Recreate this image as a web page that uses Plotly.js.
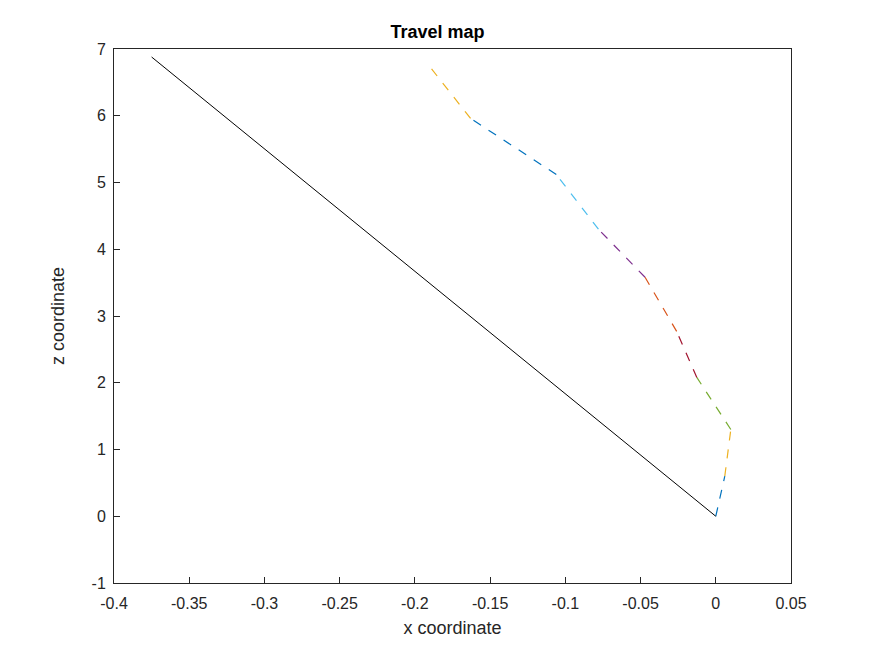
<!DOCTYPE html>
<html>
<head>
<meta charset="utf-8">
<script src="https://cdn.plot.ly/plotly-3.0.1.min.js"></script>
<style>body{margin:0;background:#fff}</style>
</head>
<body>
<div id="chart" style="width:875px;height:656px"></div>
<script>
"use strict";

// path points
const pathX = [0, 0.006, 0.010, -0.0126, -0.026, -0.047, -0.078, -0.106, -0.163, -0.192];
const pathZ = [0, 0.60, 1.30, 2.08, 2.77, 3.58, 4.30, 5.12, 5.96, 6.79];
const segmentColors = ["#0072BD", "#EDB120", "#77AC30", "#A2142F", "#D95319", "#7E2F8E", "#4DBEEE", "#0072BD", "#EDB120"];
const directX = [0, -0.375];
const directZ = [0, 6.88];
const xTicks = [-0.4, -0.35, -0.3, -0.25, -0.2, -0.15, -0.1, -0.05, 0, 0.05];
const zTicks = [-1, 0, 1, 2, 3, 4, 5, 6, 7];

var traces = [];
for (var i = 0; i < pathX.length - 1; i++) {
    traces.push({
        x: [pathX[i], pathX[i + 1]],
        y: [pathZ[i], pathZ[i + 1]],
        mode: "lines",
        line: {color: segmentColors[i], width: 1.2, dash: "dash"},
        hoverinfo: "skip"
    });
}
traces.push({x: directX, y: directZ, mode: "lines", line: {color: "#000000", width: 1}});

var axisStyle = {
    showgrid: false, zeroline: false, showline: true, mirror: true,
    linecolor: "#262626", linewidth: 1, ticks: "inside", ticklen: 6, tickcolor: "#262626",
    tickfont: {size: 16, color: "#262626"}
};

var layout = {
    width: 875, height: 656,
    margin: {l: 114, r: 84, t: 49, b: 73},
    showlegend: false,
    paper_bgcolor: "#fff", plot_bgcolor: "#fff",
    font: {family: "Liberation Sans, Arial, sans-serif"},
    title: {text: "<b>Travel map</b>", font: {size: 18, color: "#000"}, x: 0.5, xanchor: "center", y: 0.962},
    xaxis: Object.assign({}, axisStyle, {
        range: [-0.4, 0.05], tickvals: xTicks, ticktext: xTicks.map(String),
        ticklabelstandoff: 6,
        title: {text: "x coordinate", font: {size: 18, color: "#262626"}, standoff: 10}
    }),
    yaxis: Object.assign({}, axisStyle, {
        range: [-1, 7], tickvals: zTicks, ticktext: zTicks.map(String),
        ticklabelstandoff: 4,
        title: {text: "z coordinate", font: {size: 18, color: "#262626"}, standoff: 22}
    })
};

Plotly.newPlot("chart", traces, layout, {staticPlot: true});
</script>
</body>
</html>
